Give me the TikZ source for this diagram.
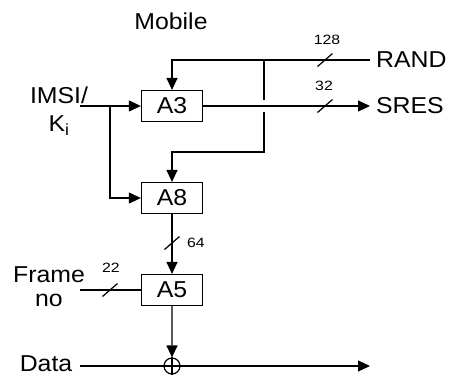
\documentclass[tikz,border=0pt]{standalone}
\usepackage{fontspec}
\setmainfont{Liberation Sans}
\usetikzlibrary{arrows.meta}

\tikzset{
  lbl/.style={font=\fontsize{23}{28}\selectfont, xscale=1.08, inner sep=0pt},
  bits/.style={font=\fontsize{13.5}{15}\selectfont, xscale=1.17, inner sep=0pt},
  algo/.style={draw, line width=1.2pt, font=\fontsize{23}{28}\selectfont, xscale=1.08,
    minimum width=56.5pt, minimum height=31pt, inner sep=0pt},
  xorgate/.style={draw, circle, line width=1.2pt, minimum size=16pt, inner sep=0pt},
  sig/.style={line width=1.2pt},
  flow/.style={sig, -{Triangle[length=12pt,width=11pt]}},
  busmark/.pic={\draw[sig] (-7.5,6.5) -- (7.5,-6.5);}
}

\begin{document}
\begin{tikzpicture}[x=1pt, y=-1pt]
    \useasboundingbox (0,0) rectangle (450,376);

    \node[lbl] (mob) at (171,21) {Mobile};
    \node[algo] (a3) at (172,106) {A3};
    \node[algo] (a8) at (172,198) {A8};
    \node[algo] (a5) at (172,290) {A5};
    \node[xorgate] (xor) at (172,366) {};

    \node[lbl, anchor=west, inner xsep=5.5pt] (rand) at (370,60) {RAND};
    \node[lbl, anchor=west, inner xsep=5.5pt] (sres) at (370,106) {SRES};
    \node[lbl, align=center] (key) at (59,111) {IMSI/\\K\textsubscript{i}};
    \node[lbl, align=center, font=\fontsize{23}{24}\selectfont] (frame) at (49,287) {Frame\\no};
    \node[lbl, anchor=east, inner xsep=7pt] (data) at (80,364) {Data};

    \coordinate (kin) at (80,106);
    \coordinate (br) at (110,106);
    \coordinate (tap) at (264,60);
    \coordinate (hopa) at (264,100);
    \coordinate (hopb) at (264,112);
    \coordinate (fin) at (80,290);
    \coordinate (dout) at (370,366);

    \draw[flow] (rand.west) -| (a3);
    \draw[sig] (tap) -- (hopa);
    \draw[flow] (hopb) -- (264,152) -| (a8);
    \draw[flow] (kin) -- (a3);
    \draw[flow] (br) |- (a8);
    \draw[flow] (a3) -- (sres.west);
    \draw[flow] (a8) -- (a5);
    \draw[sig] (fin) -- (a5);
    \draw[flow] (a5) -- (xor);
    \draw[flow] (data.east |- xor) -- (dout);
    \draw[sig] (xor.north) -- (xor.south);

    \foreach \x/\y/\lx/\ly/\t in {325/60/327/40/128, 325/106/324/86/32,
        172/243/196/243/64, 110/290/111/268/22}{
      \pic at (\x,\y) {busmark};
      \node[bits] (n\t) at (\lx,\ly) {\t};
    }
\end{tikzpicture}
\end{document}
